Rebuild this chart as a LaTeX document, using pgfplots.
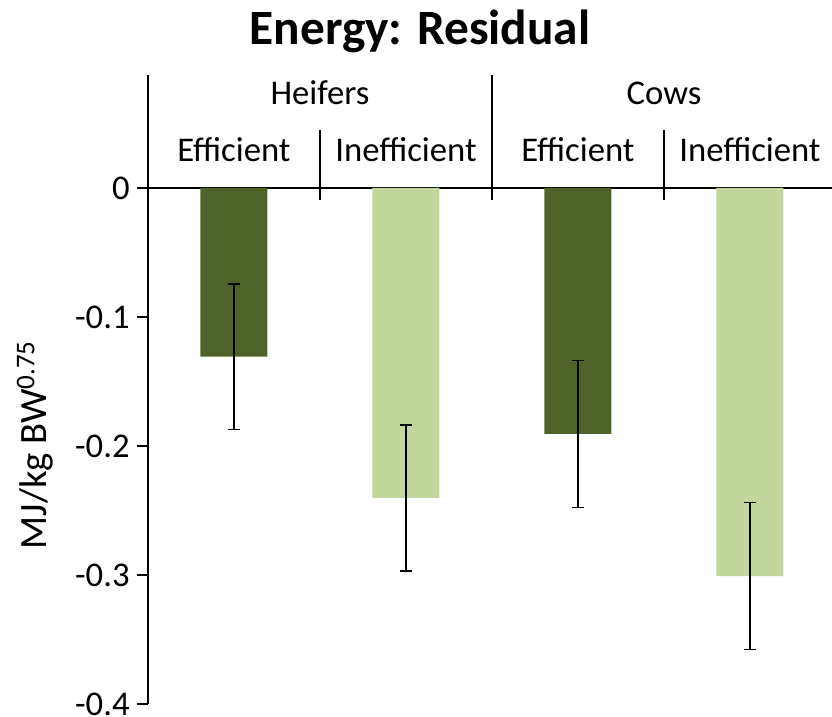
\documentclass[border=0pt]{standalone}
\usepackage{pgfplots}
\pgfplotsset{compat=1.18}
\usepackage{fontspec}
\setmainfont{Carlito}
\definecolor{darkolive}{HTML}{4F6228}
\definecolor{lightolive}{HTML}{C3D69B}
\begin{document}
\begin{tikzpicture}
\useasboundingbox (-111pt,-9.75pt) rectangle (513pt,528pt);
\begin{axis}[
  at={(0pt,0pt)}, anchor=south west,
  scale only axis,
  width=513pt, height=387pt,
  xmin=-0.5, xmax=3.477,
  ymin=-0.4, ymax=0,
  axis x line*=top,
  axis y line*=left,
  axis line style={black, line width=1pt},
  xtick=\empty,
  ytick={-0.4,-0.3,-0.2,-0.1,0},
  yticklabels={-0.4,-0.3,-0.2,-0.1,0},
  tick align=outside,
  major tick length=8.25pt,
  tick style={black, line width=1pt},
  yticklabel style={font=\fontsize{26}{30}\selectfont, text=black, xshift=-2pt},
  clip=false,
  ybar, bar width=50.25pt, bar shift=0pt,
]
\addplot[fill=darkolive, draw=none, error bars/.cd, y dir=both, y explicit,
  error bar style={black, line width=1.3pt},
  error mark options={rotate=90, mark size=4.5pt, line width=1.3pt, black}]
  coordinates {(0,-0.1307) +- (0,0.0565) (2,-0.1907) +- (0,0.057)};
\addplot[fill=lightolive, draw=none, error bars/.cd, y dir=both, y explicit,
  error bar style={black, line width=1.3pt},
  error mark options={rotate=90, mark size=4.5pt, line width=1.3pt, black}]
  coordinates {(1,-0.2403) +- (0,0.0566) (3,-0.3008) +- (0,0.057)};
% category separators
\draw[black, line width=1pt] (rel axis cs:0,1) -- ([yshift=84.75pt]rel axis cs:0,1);
\draw[black, line width=1pt] ([yshift=-9pt]axis cs:0.5,0) -- ([yshift=43.5pt]axis cs:0.5,0);
\draw[black, line width=1pt] ([yshift=-9pt]axis cs:2.5,0) -- ([yshift=43.5pt]axis cs:2.5,0);
\draw[black, line width=1pt] ([yshift=-9pt]axis cs:1.5,0) -- ([yshift=84.75pt]axis cs:1.5,0);
% category labels
\node[anchor=base, font=\fontsize{26}{30}\selectfont] at ([yshift=19.5pt]axis cs:0,0) {Efficient};
\node[anchor=base, font=\fontsize{26}{30}\selectfont] at ([yshift=19.5pt]axis cs:1,0) {Inefficient};
\node[anchor=base, font=\fontsize{26}{30}\selectfont] at ([yshift=19.5pt]axis cs:2,0) {Efficient};
\node[anchor=base, font=\fontsize{26}{30}\selectfont] at ([yshift=19.5pt]axis cs:3,0) {Inefficient};
\node[anchor=base, font=\fontsize{26}{30}\selectfont] at ([yshift=62.25pt]axis cs:0.5,0) {Heifers};
\node[anchor=base, font=\fontsize{26}{30}\selectfont] at ([yshift=62.25pt]axis cs:2.5,0) {Cows};
\end{axis}
\node[anchor=base, font=\fontsize{37}{44}\bfseries] at (204pt,494.25pt) {Energy: Residual};
\node[rotate=90, font=\fontsize{29}{34}\selectfont] at (-84.75pt,194.25pt) {MJ/kg BW\textsuperscript{0.75}};
\end{tikzpicture}
\end{document}
